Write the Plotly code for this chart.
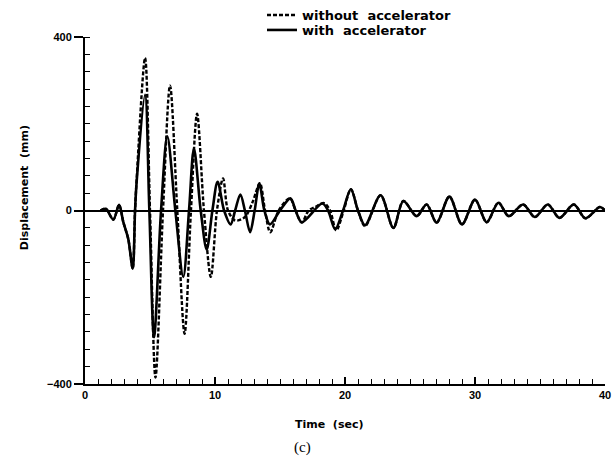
import plotly.graph_objects as go

# time (s) and displacement (mm)
t_without = [1.2, 1.6, 2.18, 2.62, 2.95, 3.33, 3.67, 3.85, 3.97, 4.62,
             5.0, 5.42, 6.0, 6.54, 7.1, 7.66, 8.15, 8.62, 9.15, 9.68, 10.15, 10.62, 11.0, 11.55, 12.3, 12.9, 13.45, 13.85, 14.25,
             14.9, 15.75, 16.2, 16.67, 17.2, 17.7, 18.4, 18.85, 19.33, 19.9, 20.45, 21.0, 21.54,
             22.74, 23.72, 24.49, 25.51, 26.28, 27.05, 28.03, 29.0, 30.0, 30.9,
             31.8, 32.6, 33.7, 34.6, 35.6, 36.5, 37.6, 38.5, 39.6, 40]
d_without = [0, 4, -21, 13, -27, -66, -134, 0, 70, 352,
             0, -385, 0, 288, 0, -284, 0, 223, 0, -153, 0, 74, 0, -23, -15, 20, 63, 0, -50,
             0, 28, 0, -28, 0, 8, 17, 0, -46, 0, 49, 0, -36,
             35, -40, 22, -13, 14, -28, 32, -32, 25, -27,
             18, -13, 14, -15, 14, -17, 14, -18, 8, 0]

t_with = [1.2, 1.6, 2.18, 2.62, 2.95, 3.33, 3.67, 3.85, 3.97,
          4.62, 4.95, 5.31, 5.85, 6.33, 6.95, 7.56, 8.0, 8.38, 8.9, 9.36, 9.8, 10.2, 10.7, 11.2, 11.55, 11.95, 12.3, 12.7,
          13.05, 13.41, 13.8, 14.23, 15.0, 15.8, 16.2, 16.67, 18.25, 18.7, 19.25, 19.85, 20.45, 21.0, 21.54, 22.74, 23.72,
          24.49, 25.51, 26.28, 27.05, 28.03, 29.0, 30.0, 30.9, 31.8, 32.6,
          33.7, 34.6, 35.6, 36.5, 37.6, 38.5, 39.6, 40]
d_with = [0, 4, -21, 13, -27, -66, -134, 0, 65,
          267, 0, -292, 0, 171, 0, -153, 0, 143, 0, -90, 0, 66, 0, -32, 0, 37, 0, -50,
          0, 62, 0, -32, 0, 28, 0, -27, 16, 0, -43, 0, 49, 0, -34, 35, -40,
          22, -13, 14, -28, 32, -32, 25, -27, 18, -13,
          14, -15, 14, -17, 14, -18, 8, 0]

x_ticks = [0, 10, 20, 30, 40]
y_ticks = [-400, 0, 400]

W, H = 613, 467

fig = go.Figure()
fig.add_trace(go.Scatter(x=t_without, y=d_without, mode="lines",
                         name="without  accelerator", legend="legend",
                         line=dict(color="black", width=2.4, dash="4px,2px",
                                   shape="spline", smoothing=0.9)))
fig.add_trace(go.Scatter(x=t_with, y=d_with, mode="lines",
                         name="with  accelerator", legend="legend2",
                         line=dict(color="black", width=2.6,
                                   shape="spline", smoothing=0.9)))

tick_font = dict(family="Liberation Sans, Arial", size=11, color="black", weight="bold")
leg_font = dict(family="DejaVu Sans", size=13, color="black", weight="bold")

fig.update_layout(
    width=W, height=H,
    margin=dict(l=85, r=8, t=37, b=83, autoexpand=False),
    paper_bgcolor="white", plot_bgcolor="white",
    showlegend=True,
    legend=dict(x=262 / W, y=1 - 15 / H, xref="container", yref="container",
                xanchor="left", yanchor="middle",
                bgcolor="rgba(0,0,0,0)", font=leg_font),
    legend2=dict(x=262 / W, y=1 - 30 / H, xref="container", yref="container",
                 xanchor="left", yanchor="middle",
                 bgcolor="rgba(0,0,0,0)", font=leg_font),
    xaxis=dict(range=[0, 40], tickvals=x_ticks, ticktext=[str(v) for v in x_ticks],
               automargin=False,
               showgrid=False, zeroline=False,
               showline=True, linecolor="black", linewidth=2,
               ticks="inside", ticklen=7, tickwidth=1.5, tickcolor="black",
               minor=dict(dtick=1, ticks="inside", ticklen=5, tickwidth=1.2,
                          tickcolor="black", showgrid=False),
               tickfont=tick_font),
    yaxis=dict(range=[-400, 400], tickvals=y_ticks,
               ticktext=["\u2212400", "0", "400"],
               automargin=False,
               showgrid=False, zeroline=True, zerolinecolor="black", zerolinewidth=1.5,
               showline=True, linecolor="black", linewidth=2,
               ticks="outside", ticklen=9, tickwidth=1.5, tickcolor="black",
               minor=dict(dtick=40, ticks="inside", ticklen=5, tickwidth=1.2,
                          tickcolor="black", showgrid=False),
               tickfont=tick_font),
    annotations=[
        dict(text="Time  (sec)", x=0.47, y=-0.118, xref="paper", yref="paper",
             showarrow=False, xanchor="center", yanchor="middle",
             font=dict(family="DejaVu Sans", size=11, color="black", weight="bold")),
        dict(text="(c)", x=0.419, y=-0.182, xref="paper", yref="paper",
             showarrow=False, xanchor="center", yanchor="middle",
             font=dict(family="Liberation Serif, Times New Roman", size=15, color="black")),
        dict(text="Displacement  (mm)", x=-0.115, y=0.565, xref="paper", yref="paper",
             showarrow=False, textangle=-90, xanchor="center", yanchor="middle",
             font=dict(family="DejaVu Sans", size=11, color="black", weight="bold")),
    ],
)

# remove the default 8px page margin so the figure sits at the window's corner
fig.write_html("out.html",
               config={"displayModeBar": False},
               post_script="document.body.style.margin='0';document.body.style.overflow='hidden';")
